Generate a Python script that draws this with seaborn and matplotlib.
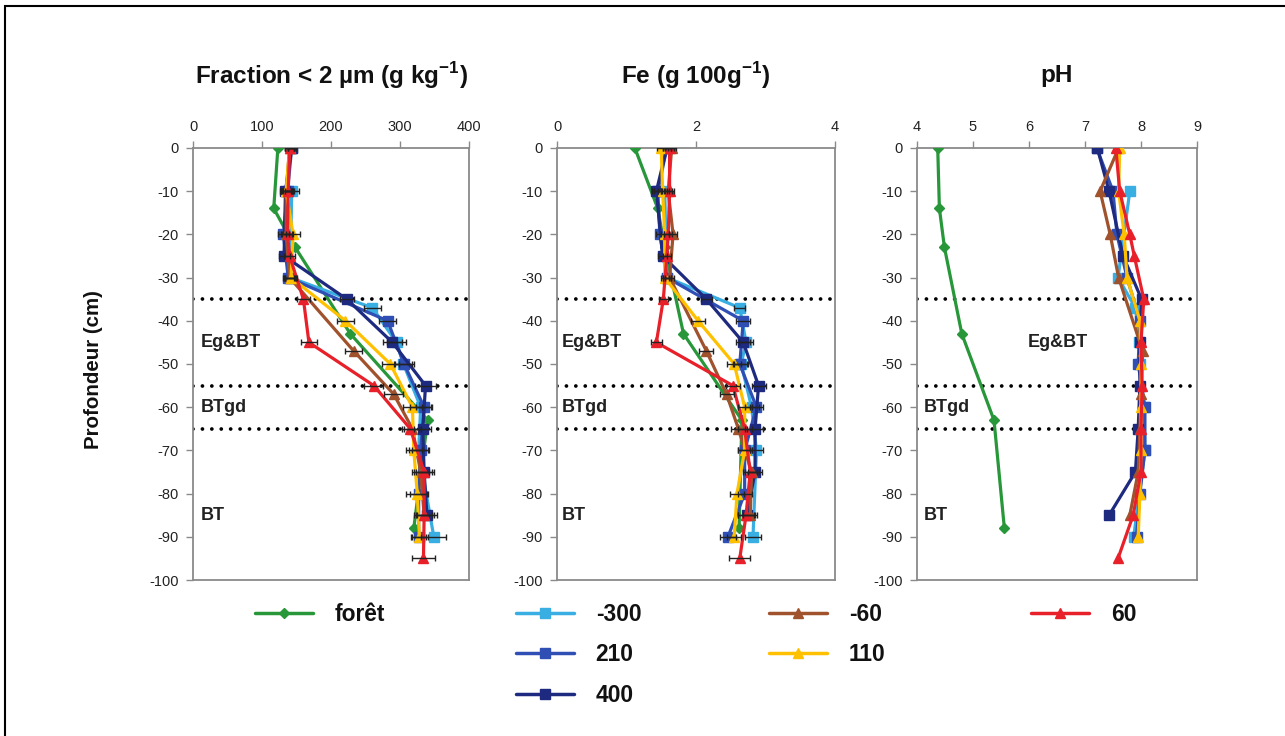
import matplotlib
matplotlib.use("Agg")
import matplotlib.pyplot as plt
import seaborn as sns
import pandas as pd
from matplotlib.lines import Line2D
from matplotlib.patches import Rectangle

sns.set_theme(style="white")
plt.rcParams["font.family"] = ["Liberation Sans", "DejaVu Sans"]
plt.rcParams["axes.unicode_minus"] = False
plt.rcParams["mathtext.fontset"] = "custom"
plt.rcParams["mathtext.rm"] = "Liberation Sans"
plt.rcParams["mathtext.bf"] = "Liberation Sans:bold"

# ---------------- data ----------------
series_names = ["forêt", "-300", "210", "400", "-60", "110", "60"]
series_colors = ["#27973a", "#39aee3", "#2f4fb5", "#1d2a7f", "#a0522d", "#ffc000", "#e8202a"]
series_markers = ["D", "s", "s", "s", "^", "^", "^"]

depth_foret = [0, -14, -23, -43, -63, -88]
depth_m300 = [-10, -30, -37, -45, -50, -60, -70, -90]
depth_210 = [0, -10, -20, -30, -40, -50, -60, -70, -80, -90]
depth_400 = [0, -10, -25, -35, -45, -55, -65, -75, -85]
depth_m60 = [0, -10, -20, -30, -47, -57, -65, -75, -85]
depth_110 = [0, -10, -20, -30, -40, -50, -60, -70, -80, -90]
depth_60 = [0, -10, -20, -25, -35, -45, -55, -65, -75, -85, -95]

# Fraction < 2 µm (g/kg)
clay_foret = [123, 117, 148, 228, 340, 320]
clay_m300 = [143, 141, 260, 295, 305, 330, 327, 349]
clay_210 = [143, 137, 131, 138, 282, 306, 335, 330, 327, 327]
clay_400 = [143, 134, 132, 223, 289, 337, 333, 335, 339]
clay_m60 = [140, 135, 135, 140, 233, 291, 318, 330, 335]
clay_110 = [140, 135, 145, 142, 221, 286, 318, 320, 325, 328]
clay_60 = [140, 138, 137, 140, 160, 168, 262, 315, 335, 335, 334]

clay_err_m300 = [10, 8, 12, 14, 12, 15, 14, 18]
clay_err_210 = [6, 8, 8, 8, 12, 14, 12, 12, 12, 10]
clay_err_400 = [6, 8, 8, 10, 14, 15, 12, 12, 14]
clay_err_m60 = [6, 8, 8, 8, 12, 14, 12, 12, 12]
clay_err_110 = [6, 8, 10, 8, 12, 12, 14, 12, 16, 12]
clay_err_60 = [6, 8, 8, 8, 10, 12, 14, 12, 14, 14, 17]

# Fe (g/100 g)
fe_foret = [1.12, 1.45, 1.55, 1.82, 2.66, 2.62]
fe_m300 = [1.55, 1.58, 2.63, 2.72, 2.65, 2.80, 2.87, 2.82]
fe_210 = [1.58, 1.45, 1.48, 1.58, 2.68, 2.63, 2.87, 2.70, 2.70, 2.46]
fe_400 = [1.58, 1.43, 1.52, 2.15, 2.68, 2.90, 2.85, 2.85, 2.73]
fe_m60 = [1.65, 1.60, 1.67, 1.62, 2.15, 2.44, 2.61, 2.80, 2.78]
fe_110 = [1.50, 1.52, 1.55, 1.55, 2.03, 2.55, 2.70, 2.70, 2.59, 2.55]
fe_60 = [1.62, 1.62, 1.60, 1.58, 1.53, 1.43, 2.53, 2.70, 2.78, 2.72, 2.63]

fe_err_m300 = [0.06, 0.06, 0.08, 0.1, 0.1, 0.1, 0.1, 0.12]
fe_err_210 = [0.06, 0.06, 0.06, 0.06, 0.1, 0.1, 0.1, 0.1, 0.1, 0.12]
fe_err_400 = [0.06, 0.06, 0.06, 0.08, 0.1, 0.1, 0.12, 0.1, 0.12]
fe_err_m60 = [0.06, 0.06, 0.06, 0.06, 0.1, 0.1, 0.1, 0.1, 0.1]
fe_err_110 = [0.06, 0.06, 0.06, 0.06, 0.1, 0.1, 0.1, 0.1, 0.1, 0.1]
fe_err_60 = [0.06, 0.06, 0.06, 0.06, 0.06, 0.08, 0.1, 0.1, 0.1, 0.12, 0.15]

# pH
ph_foret = [4.37, 4.40, 4.49, 4.80, 5.375, 5.56]
ph_m300 = [7.80, 7.59, 7.90, 7.97, 7.98, 8.05, 8.07, 7.87]
ph_210 = [7.21, 7.50, 7.57, 7.75, 7.98, 7.95, 8.07, 8.07, 7.98, 7.92]
ph_400 = [7.22, 7.43, 7.68, 8.01, 7.98, 7.98, 7.95, 7.90, 7.43]
ph_m60 = [7.60, 7.27, 7.45, 7.60, 8.03, 8.00, 7.98, 7.95, 7.80]
ph_110 = [7.62, 7.60, 7.70, 7.75, 7.98, 8.00, 8.00, 8.00, 7.98, 7.95]
ph_60 = [7.55, 7.62, 7.80, 7.88, 8.05, 8.00, 8.02, 8.00, 8.00, 7.86, 7.59]

horizon_depths = [-35, -55, -65]
panel_titles = [r"Fraction < 2 µm (g kg$^{\mathbf{-1}}$)", r"Fe (g 100g$^{\mathbf{-1}}$)", "pH"]
x_ticks = [[0, 100, 200, 300, 400], [0, 2, 4], [4, 5, 6, 7, 8, 9]]
x_limits = [(0, 400), (0, 4), (4, 9)]
y_ticks = list(range(-100, 1, 10))

depths = [depth_foret, depth_m300, depth_210, depth_400, depth_m60, depth_110, depth_60]
panel_values = [
    [clay_foret, clay_m300, clay_210, clay_400, clay_m60, clay_110, clay_60],
    [fe_foret, fe_m300, fe_210, fe_400, fe_m60, fe_110, fe_60],
    [ph_foret, ph_m300, ph_210, ph_400, ph_m60, ph_110, ph_60],
]
panel_errors = [
    [None, clay_err_m300, clay_err_210, clay_err_400, clay_err_m60, clay_err_110, clay_err_60],
    [None, fe_err_m300, fe_err_210, fe_err_400, fe_err_m60, fe_err_110, fe_err_60],
    [None] * 7,
]

# ---------------- figure ----------------
W, H = 1285, 736
fig = plt.figure(figsize=(W / 100, H / 100), dpi=100)
fig.patch.set_facecolor("white")

ax_left_px = [193, 557, 917]
ax_w_px = [276, 278, 280]
ax_top_px, ax_bot_px = 148, 580
axes = []
for i in range(3):
    ax = fig.add_axes([ax_left_px[i] / W, 1 - ax_bot_px / H, ax_w_px[i] / W, (ax_bot_px - ax_top_px) / H])
    axes.append(ax)

draw_order = [0, 4, 5, 6, 1, 2, 3]
marker_sizes = {"D": 5.5, "s": 7, "^": 7}

for p, ax in enumerate(axes):
    for h in horizon_depths:
        ax.axhline(h, color="black", lw=2.7, ls=(0, (0.01, 2.5)), dash_capstyle="round", zorder=1.5)
    for k in draw_order:
        df = pd.DataFrame({"value": panel_values[p][k], "depth": depths[k]})
        sns.lineplot(data=df, x="value", y="depth", sort=False, estimator=None, ax=ax,
                     color=series_colors[k], marker=series_markers[k],
                     markersize=marker_sizes[series_markers[k]], markeredgecolor=series_colors[k],
                     markeredgewidth=1, linewidth=2.3, legend=False, zorder=3 + k * 0.1)
        err = panel_errors[p][k]
        if err is not None:
            ax.errorbar(panel_values[p][k], depths[k], xerr=err, fmt="none", ecolor="#222222",
                        elinewidth=1, capsize=2.5, capthick=1, zorder=4)
    ax.set_xlim(*x_limits[p])
    ax.set_ylim(-100, 0)
    ax.set_xticks(x_ticks[p])
    ax.set_xticklabels([str(t) for t in x_ticks[p]])
    ax.set_yticks(y_ticks)
    ax.set_yticklabels([str(t) for t in y_ticks])
    ax.xaxis.tick_top()
    ax.set_xlabel("")
    ax.set_ylabel("")
    ax.tick_params(axis="both", direction="out", length=5, width=1, color="#8a8a8a",
                   labelsize=10.5, pad=5, labelcolor="#222222")
    ax.tick_params(axis="x", top=True, bottom=False, labeltop=True, labelbottom=False)
    ax.tick_params(axis="y", left=True, right=False)
    for s in ax.spines.values():
        s.set_color("#8a8a8a")
        s.set_linewidth(1.3)
    ax.text(0.5, 1 + (148 - 76) / 432, panel_titles[p], transform=ax.transAxes,
            ha="center", va="center", fontsize=17.5, fontweight="bold", color="#111111")

# horizon labels
region_labels = ["Eg&BT", "BTgd", "BT"]
region_depths = [-45, -60, -85]
label_x = [[11, 11, 11], [0.07, 0.07, 0.07], [6.52, 4.12, 4.12]]
label_ha = [["left"] * 3, ["left"] * 3, ["center", "left", "left"]]
for p, ax in enumerate(axes):
    for j in range(3):
        ax.text(label_x[p][j], region_depths[j], region_labels[j], ha=label_ha[p][j], va="center",
                fontsize=13, fontweight="bold", color="#222222", zorder=6)

fig.text(93 / W, 1 - 370 / H, "Profondeur (cm)", rotation=90, ha="center", va="center",
         fontsize=14.8, fontweight="bold", color="#111111")

# legend (four columns)
def handle(k):
    return Line2D([], [], color=series_colors[k], marker=series_markers[k], lw=2.5,
                  markersize=marker_sizes[series_markers[k]], markeredgecolor=series_colors[k])

legend_columns = [[0], [1, 2, 3], [4, 5], [6]]
legend_x_px = [255, 516, 769, 1031]
for col, xs in zip(legend_columns, legend_x_px):
    leg = fig.legend([handle(k) for k in col], [series_names[k] for k in col],
                     loc="upper left", bbox_to_anchor=(xs / W, 1 - 603 / H),
                     frameon=False, borderpad=0, borderaxespad=0, handlelength=2.55,
                     handletextpad=0.95, labelspacing=0.76,
                     prop={"size": 16.4, "weight": "bold"})
    for t in leg.get_texts():
        t.set_color("#111111")

# outer frame
fig.add_artist(Rectangle((5 / W, -0.05), 1.2, 1 - 6 / H + 0.05, transform=fig.transFigure,
                         fill=False, ec="black", lw=1.5))

fig.savefig("out.png", dpi=100)
